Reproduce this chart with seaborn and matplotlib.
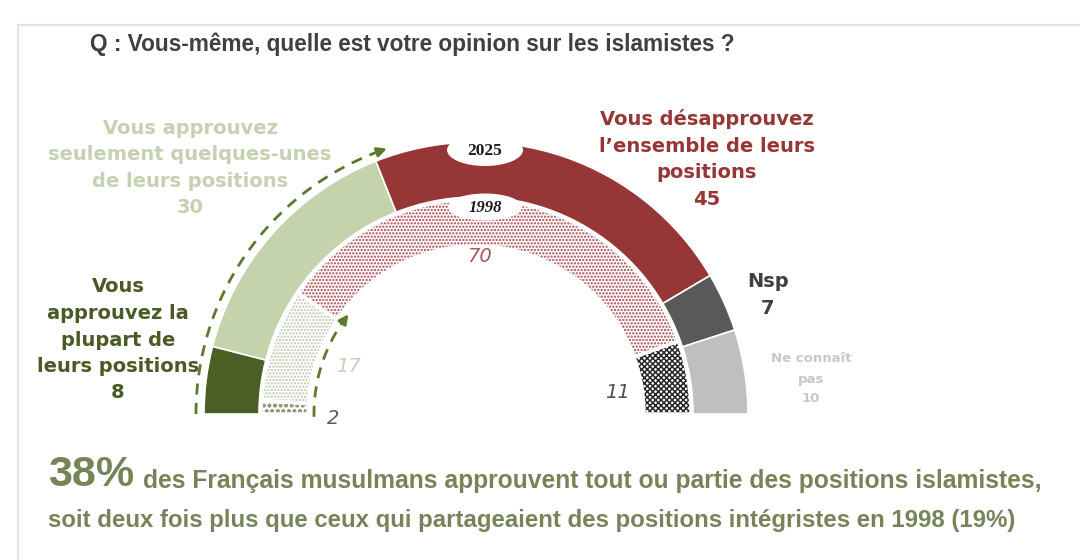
import numpy as np
import matplotlib
matplotlib.use("Agg")
import matplotlib.pyplot as plt
from matplotlib.patches import Ellipse
import seaborn as sns

# Donnees
cat_2025 = ["Vous approuvez la plupart de leurs positions",
            "Vous approuvez seulement quelques-unes de leurs positions",
            "Vous désapprouvez l'ensemble de leurs positions",
            "Nsp", "Ne connaît pas"]
val_2025 = [8, 30, 45, 7, 10]
val_1998 = [2, 17, 70, 11]
annees = ["2025", "1998"]

couleurs_2025 = ["#4b5e24", "#c4d3ab", "#973636", "#595959", "#bfbfbf"]
couleurs_1998 = ["#8f9c80", "#bcc7ae", "#a8434b", "#262626"]
hachures_1998 = ["ooo", ".....", ".....", "xxxxxx"]

sns.set_theme(style="white")
plt.rcParams['font.family'] = ['DejaVu Sans']
plt.rcParams['hatch.linewidth'] = 1.1

fig = plt.figure(figsize=(10.8, 5.6), dpi=100)
ax = fig.add_axes([0, 0, 1, 1])

def Y(y):
    return 560 - y

cx, cy = 476, Y(414)

# anneau exterieur 2025
w_out, _ = ax.pie(val_2025 + [sum(val_2025)], radius=272, center=(cx, cy),
                  startangle=180, counterclock=False,
                  colors=couleurs_2025 + ["white"],
                  wedgeprops=dict(width=55, edgecolor="white", linewidth=1.2))
w_out[-1].set_visible(False)

# anneau interieur 1998 (motifs)
w_in, _ = ax.pie(val_1998 + [sum(val_1998)], radius=215, center=(cx, cy),
                 startangle=180, counterclock=False,
                 colors=["white"] * 5, wedgeprops=dict(width=47, linewidth=0))
w_in[-1].set_visible(False)
for w, h, c in zip(w_in, hachures_1998, couleurs_1998):
    w.set_hatch(h)
    w.set_edgecolor(c)
    w.set_linewidth(0)
sep, _ = ax.pie(val_1998 + [sum(val_1998)], radius=215, center=(cx, cy),
                startangle=180, counterclock=False,
                wedgeprops=dict(width=47, facecolor="none", edgecolor="white", linewidth=2.5))
sep[-1].set_visible(False)

# pastilles des annees
ax.add_patch(Ellipse((485, Y(150)), 76, 32, facecolor="white", edgecolor="none", zorder=5))
ax.add_patch(Ellipse((485, Y(207)), 74, 27, facecolor="white", edgecolor="none", zorder=5))
ax.text(485, Y(151), annees[0], ha="center", va="center", fontsize=12.5, fontweight="bold",
        family="Liberation Serif", color="#1a1a1a", zorder=6)
ax.text(485, Y(208), annees[1], ha="center", va="center", fontsize=12, fontweight="bold",
        style="italic", family="Liberation Serif", color="#1a1a1a", zorder=6)

# fleches en pointilles
vert = "#5b7a2e"
t = np.radians(np.linspace(180, 111, 80))
ax.plot(cx + 280 * np.cos(t), cy + 280 * np.sin(t), ls=(0, (4, 3)), color=vert, lw=2)
ax.annotate("", xy=(cx + 280 * np.cos(np.radians(108)), cy + 280 * np.sin(np.radians(108))),
            xytext=(cx + 280 * np.cos(np.radians(111)), cy + 280 * np.sin(np.radians(111))),
            arrowprops=dict(arrowstyle="-|>", color=vert, lw=2, mutation_scale=14))
t = np.radians(np.linspace(181, 146, 50))
ax.plot(cx + 162 * np.cos(t), cy + 162 * np.sin(t), ls=(0, (4, 3)), color=vert, lw=2)
ax.annotate("", xy=(cx + 162 * np.cos(np.radians(141)), cy + 162 * np.sin(np.radians(141))),
            xytext=(cx + 162 * np.cos(np.radians(146)), cy + 162 * np.sin(np.radians(146))),
            arrowprops=dict(arrowstyle="-|>", color=vert, lw=2, mutation_scale=14))

# libelles
lab = dict(ha="center", va="center", fontweight="bold", linespacing=1.5)
ax.text(190, Y(168), "Vous approuvez\nseulement quelques-unes\nde leurs positions\n" + str(val_2025[1]),
        color="#c5d1b0", fontsize=14, **lab)
ax.text(707, Y(159), "Vous désapprouvez\nl’ensemble de leurs\npositions\n" + str(val_2025[2]),
        color="#973636", fontsize=14, **lab)
ax.text(118, Y(340), "Vous\napprouvez la\nplupart de\nleurs positions\n" + str(val_2025[0]),
        color="#4a5a25", fontsize=14, **lab)
ax.text(768, Y(295), "Nsp\n" + str(val_2025[3]), color="#404040", fontsize=14, **lab)
lab["linespacing"] = 1.7
ax.text(811, Y(379), "Ne connaît\npas\n" + str(val_2025[4]), color="#c8c8c8", fontsize=9.5, **lab)

ital = dict(ha="center", va="center", style="italic", fontsize=14)
ax.text(480, Y(256), str(val_1998[2]), color="#a85a5a", **ital)
ax.text(348, Y(366), str(val_1998[1]), color="#c8d0bc", **ital)
ax.text(333, Y(418), str(val_1998[0]), color="#5a5a5a", **ital)
ax.text(617, Y(393), str(val_1998[3]), color="#505050", **ital)

# titre et cadre
ax.text(90, Y(44), "Q : Vous-même, quelle est votre opinion sur les islamistes ?",
        ha="left", va="center", fontsize=16.3, fontweight="bold", color="#404040",
        family="Liberation Sans")
ax.plot([18, 1080], [Y(25), Y(25)], color="#e4e4e4", lw=1.5)
ax.plot([18, 18], [Y(25), 0], color="#e4e4e4", lw=1.5)

# texte du bas
olive = "#77845a"
police = ["Liberation Sans"]
ax.text(48, Y(475), "38%", ha="left", va="center", fontsize=31, fontweight="bold",
        color=olive, family=police)
ax.text(143, Y(481), "des Français musulmans approuvent tout ou partie des positions islamistes,",
        ha="left", va="center", fontsize=17.7, fontweight="bold", color=olive, family=police)
ax.text(48, Y(521), "soit deux fois plus que ceux qui partageaient des positions intégristes en 1998 (19%)",
        ha="left", va="center", fontsize=17.3, fontweight="bold", color=olive, family=police)

ax.set_xlim(0, 1080)
ax.set_ylim(0, 560)
ax.set_aspect("equal")
ax.axis("off")
fig.savefig("out.png", dpi=100, facecolor="white")
